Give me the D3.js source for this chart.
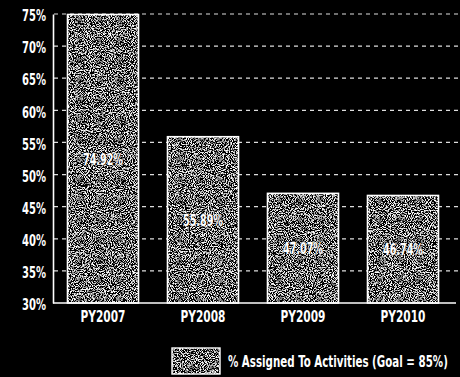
<!DOCTYPE html>
<html>
<head>
<meta charset="utf-8">
<script src="https://cdn.jsdelivr.net/npm/d3@7"></script>
<style>
  html, body { margin: 0; padding: 0; background: #000; }
  svg { display: block; }
  text { font-family: "DejaVu Sans Condensed", "DejaVu Sans", sans-serif; font-weight: bold; fill: #fff; }
</style>
</head>
<body>
<svg id="chart" width="460" height="377"></svg>
<script>
// Share of participants assigned to activities, by program year
const categories = ["PY2007", "PY2008", "PY2009", "PY2010"];
const values = [74.92, 55.89, 47.07, 46.74];
const yTicks = [30, 35, 40, 45, 50, 55, 60, 65, 70, 75];
const legendLabel = "% Assigned To Activities (Goal = 85%)";

const svg = d3.select("#chart");
const W = 460, H = 377;
const FONT = "'DejaVu Sans Condensed','DejaVu Sans',sans-serif";
svg.append("rect").attr("width", W).attr("height", H).attr("fill", "#000");

// squeeze a text group horizontally (about each text's anchor x)
// so that the sample string spans `width` px
function condense(sel, sample, width) {
  const probe = svg.append("text").attr("font-size", sel.attr("font-size"))
    .style("font-family", FONT).attr("font-weight", "bold").text(sample);
  const k = width / probe.node().getComputedTextLength();
  probe.remove();
  sel.each(function () {
    const ax = +(d3.select(this).attr("x") || 0);
    d3.select(this).attr("transform", `translate(${ax},0) scale(${k},1) translate(${-ax},0)`);
  });
}

// grainy fill used for the bars and the legend swatch
const defs = svg.append("defs");
const grain = defs.append("filter").attr("id", "grain")
  .attr("x", 0).attr("y", 0).attr("width", 1).attr("height", 1);
grain.append("feTurbulence").attr("type", "fractalNoise")
  .attr("baseFrequency", 0.95).attr("numOctaves", 2).attr("seed", 7).attr("result", "noise");
grain.append("feColorMatrix").attr("in", "noise").attr("type", "matrix")
  .attr("values", "0 0 0 0 1  0 0 0 0 1  0 0 0 0 1  5 0 0 0 -2.35")
  .attr("result", "speck");
grain.append("feFlood").attr("flood-color", "#000").attr("result", "bg");
grain.append("feMerge").call(m => {
  m.append("feMergeNode").attr("in", "bg");
  m.append("feMergeNode").attr("in", "speck");
});

const x = d3.scaleBand().domain(categories).range([53, 453])
  .paddingInner(0.29).paddingOuter(0.145);
const y = d3.scaleLinear().domain([30, 75]).range([303, 14]);

// dashed gridlines
svg.append("g").selectAll("line").data(yTicks.filter(t => t > 30)).join("line")
  .attr("x1", 54).attr("x2", 458)
  .attr("y1", d => y(d)).attr("y2", d => y(d))
  .attr("stroke", "#ddd").attr("stroke-width", 1.2)
  .attr("stroke-dasharray", "4,4");

// y axis
const yAxis = d3.axisLeft(y).tickValues(yTicks).tickFormat(d => d + "%").tickSize(0).tickPadding(7);
const ya = svg.append("g").attr("transform", "translate(53,0)").call(yAxis);
ya.select(".domain").attr("stroke", "#fff").attr("stroke-width", 1.6);
const yLabels = ya.selectAll("text").attr("font-size", 15).style("font-family", FONT)
  .attr("font-weight", "bold").attr("fill", "#fff").attr("dy", "0.45em");
condense(yLabels, "75%", 24);

// bars
const bars = svg.append("g");
bars.selectAll("rect.fill").data(values).join("rect").attr("class", "fill")
  .attr("x", (d, i) => x(categories[i])).attr("width", x.bandwidth())
  .attr("y", d => y(d)).attr("height", d => y(30) - y(d))
  .attr("filter", "url(#grain)");
bars.selectAll("rect.edge").data(values).join("rect").attr("class", "edge")
  .attr("x", (d, i) => x(categories[i])).attr("width", x.bandwidth())
  .attr("y", d => y(d)).attr("height", d => y(30) - y(d))
  .attr("fill", "none").attr("stroke", "#fff").attr("stroke-width", 1.6);

// value labels in the middle of each bar
const vLabels = bars.selectAll("text").data(values).join("text")
  .attr("x", (d, i) => x(categories[i]) + x.bandwidth() / 2)
  .attr("y", d => (y(d) + y(30)) / 2 + 1)
  .attr("dy", "0.35em").attr("text-anchor", "middle")
  .attr("font-size", 15).attr("fill", "#f2f2f2")
  .attr("stroke", "#222").attr("stroke-width", 0.8).attr("paint-order", "stroke")
  .style("font-family", FONT)
  .text(d => d.toFixed(2) + "%");
condense(vLabels, "74.92%", 40);

// baseline
svg.append("line").attr("x1", 53).attr("x2", 456).attr("y1", y(30)).attr("y2", y(30))
  .attr("stroke", "#fff").attr("stroke-width", 1.6);

// category labels
const xAxis = d3.axisBottom(x).tickSize(0).tickPadding(8);
const xa = svg.append("g").attr("transform", `translate(0,${y(30)})`).call(xAxis);
xa.select(".domain").remove();
const xLabels = xa.selectAll("text").attr("font-size", 16).style("font-family", FONT)
  .attr("font-weight", "bold").attr("fill", "#fff");
condense(xLabels, "PY2007", 45);

// legend
const lg = svg.append("g").attr("transform", "translate(172,348)");
lg.append("rect").attr("width", 48).attr("height", 26).attr("filter", "url(#grain)");
lg.append("rect").attr("width", 48).attr("height", 26).attr("fill", "none")
  .attr("stroke", "#fff").attr("stroke-width", 1.4);
const lgText = lg.append("text").attr("x", 56).attr("y", 14).attr("dy", "0.35em")
  .attr("font-size", 15).style("font-family", FONT).text(legendLabel);
condense(lgText, legendLabel, 220);
</script>
</body>
</html>
